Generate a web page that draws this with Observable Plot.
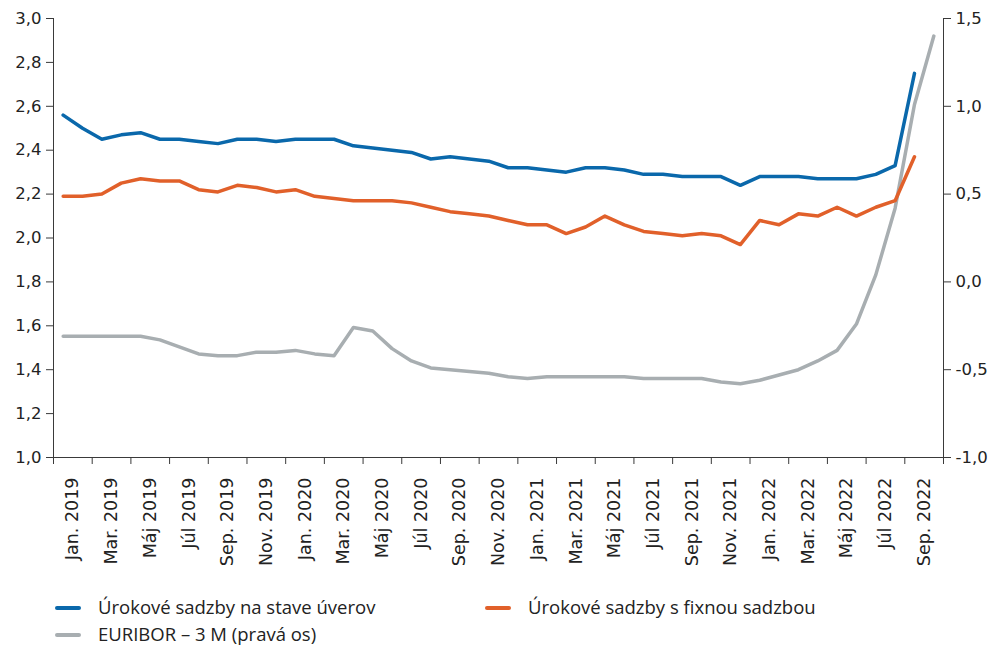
<!DOCTYPE html>
<html><head><meta charset="utf-8">
<script src="https://cdn.jsdelivr.net/npm/d3@7"></script>
<script src="https://cdn.jsdelivr.net/npm/@observablehq/plot@0.6"></script>
<style>
body{margin:0;background:#fff;}
#chart{position:relative;width:995px;height:646px;overflow:hidden;}
#chart svg{position:absolute;left:0;top:0;}
.sw{position:absolute;width:26px;height:4px;border-radius:2px;}
.lt{position:absolute;font-family:"Open Sans",sans-serif;font-size:18.5px;line-height:24px;color:#222;white-space:nowrap;}
</style></head><body>
<div id="chart"></div>
<script>
const tickLabels = ["Jan. 2019","Mar. 2019","Máj 2019","Júl 2019","Sep. 2019","Nov. 2019",
  "Jan. 2020","Mar. 2020","Máj 2020","Júl 2020","Sep. 2020","Nov. 2020",
  "Jan. 2021","Mar. 2021","Máj 2021","Júl 2021","Sep. 2021","Nov. 2021",
  "Jan. 2022","Mar. 2022","Máj 2022","Júl 2022","Sep. 2022"];
const monthCount = 46; // Jan 2019 .. Oct 2022

// Úrokové sadzby na stave úverov (left axis), Jan 2019 .. Sep 2022
const loans = [2.56,2.50,2.45,2.47,2.48,2.45,2.45,2.44,2.43,2.45,2.45,2.44,
  2.45,2.45,2.45,2.42,2.41,2.40,2.39,2.36,2.37,2.36,2.35,2.32,
  2.32,2.31,2.30,2.32,2.32,2.31,2.29,2.29,2.28,2.28,2.28,2.24,
  2.28,2.28,2.28,2.27,2.27,2.27,2.29,2.33,2.75];
// Úrokové sadzby s fixnou sadzbou (left axis), Jan 2019 .. Sep 2022
const fixed = [2.19,2.19,2.20,2.25,2.27,2.26,2.26,2.22,2.21,2.24,2.23,2.21,
  2.22,2.19,2.18,2.17,2.17,2.17,2.16,2.14,2.12,2.11,2.10,2.08,
  2.06,2.06,2.02,2.05,2.10,2.06,2.03,2.02,2.01,2.02,2.01,1.97,
  2.08,2.06,2.11,2.10,2.14,2.10,2.14,2.17,2.37];
// EURIBOR – 3 M (right axis), Jan 2019 .. Oct 2022
const euribor = [-0.31,-0.31,-0.31,-0.31,-0.31,-0.33,-0.37,-0.41,-0.42,-0.42,-0.40,-0.40,
  -0.39,-0.41,-0.42,-0.26,-0.28,-0.38,-0.45,-0.49,-0.50,-0.51,-0.52,-0.54,
  -0.55,-0.54,-0.54,-0.54,-0.54,-0.54,-0.55,-0.55,-0.55,-0.55,-0.57,-0.58,
  -0.56,-0.53,-0.50,-0.45,-0.39,-0.24,0.04,0.42,1.01,1.40];

const leftTicks = [1.0,1.2,1.4,1.6,1.8,2.0,2.2,2.4,2.6,2.8,3.0];
const rightTicks = [-1.0,-0.5,0.0,0.5,1.0,1.5];
const leftDomain = [1, 3];
const rightDomain = [-1, 1.5];

const colors = {loans:"#0a68ab", fixed:"#e1602a", euribor:"#a8aeb1"};
const axisColor = "#3a3a3a";

// map right-axis values onto the shared (left) y scale
const toLeft = r => leftDomain[0] + (r - rightDomain[0]) * (leftDomain[1]-leftDomain[0]) / (rightDomain[1]-rightDomain[0]);
const fromLeft = v => rightDomain[0] + (v - leftDomain[0]) * (rightDomain[1]-rightDomain[0]) / (leftDomain[1]-leftDomain[0]);
const fmt = x => { const r = Math.round(x*10)/10; return (r === 0 ? 0 : r).toFixed(1).replace(".", ","); };

const boundaries = d3.range(-0.5, monthCount, 2);
const centers = tickLabels.map((_, k) => 0.5 + 2*k);

const chart = Plot.plot({
  width: 995, height: 590,
  marginTop: 18, marginBottom: 133, marginLeft: 53, marginRight: 52,
  x: {domain: [-0.5, monthCount - 0.5], axis: null},
  y: {domain: leftDomain, axis: null},
  style: {fontFamily: "DejaVu Sans", fontSize: "16px", color: "#222", background: "#fff"},
  marks: [
    Plot.ruleX([-0.5, monthCount - 0.5], {y1: leftDomain[0], y2: leftDomain[1], stroke: axisColor, strokeWidth: 1}),
    Plot.ruleY([leftDomain[0]], {stroke: axisColor, strokeWidth: 1}),
    Plot.axisY(leftTicks, {anchor: "left", tickSize: 7, tickPadding: 5, tickFormat: fmt, stroke: axisColor, fontSize: 16.5}),
    Plot.axisY(rightTicks.map(toLeft), {anchor: "right", tickSize: 7, tickPadding: 5, tickFormat: v => fmt(fromLeft(v)), stroke: axisColor, fontSize: 16.5}),
    Plot.axisX(boundaries, {anchor: "bottom", tickSize: 7, tickFormat: () => "", stroke: axisColor}),
    Plot.axisX(centers, {anchor: "bottom", tickSize: 0, tickPadding: 20, tickRotate: -90, fontSize: 17.5, tickFormat: d => tickLabels[Math.round((d - 0.5)/2)]}),
    Plot.line(euribor, {x: (d, i) => i, y: d => toLeft(d), stroke: colors.euribor, strokeWidth: 3.5, strokeLinejoin: "round"}),
    Plot.line(fixed, {x: (d, i) => i, y: d => d, stroke: colors.fixed, strokeWidth: 3.5, strokeLinejoin: "round"}),
    Plot.line(loans, {x: (d, i) => i, y: d => d, stroke: colors.loans, strokeWidth: 3.5, strokeLinejoin: "round"})
  ]
});
const root = document.getElementById("chart");
root.appendChild(chart);

const legendItems = [
  {label: "Úrokové sadzby na stave úverov", color: colors.loans, x: 55, y: 608},
  {label: "Úrokové sadzby s fixnou sadzbou", color: colors.fixed, x: 485, y: 608},
  {label: "EURIBOR – 3 M (pravá os)", color: colors.euribor, x: 55, y: 635}
];
for (const it of legendItems) {
  const sw = document.createElement("div");
  sw.className = "sw";
  sw.style.left = it.x + "px"; sw.style.top = (it.y - 2) + "px"; sw.style.background = it.color;
  root.appendChild(sw);
  const t = document.createElement("div");
  t.className = "lt";
  t.style.left = (it.x + 43) + "px"; t.style.top = (it.y - 13) + "px";
  t.textContent = it.label;
  root.appendChild(t);
}
</script>
</body></html>
